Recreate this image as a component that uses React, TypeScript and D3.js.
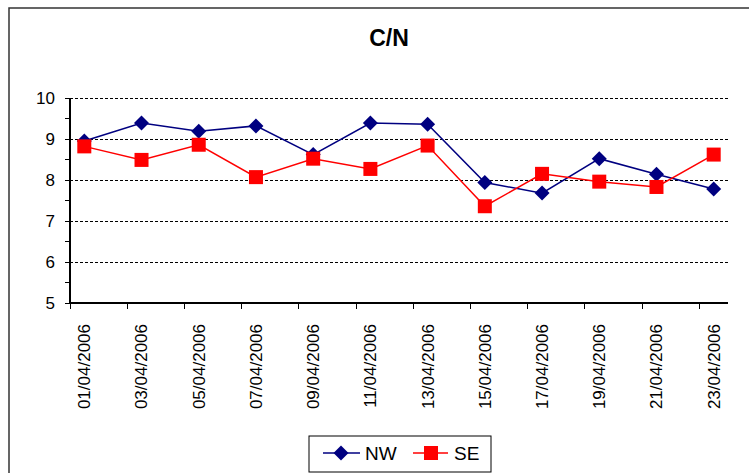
import * as d3 from "d3";

// dates are every 2 days in April 2006
const dates = [
  "01/04/2006", "03/04/2006", "05/04/2006", "07/04/2006", "09/04/2006", "11/04/2006",
  "13/04/2006", "15/04/2006", "17/04/2006", "19/04/2006", "21/04/2006", "23/04/2006",
];
const nwValues = [8.95, 9.39, 9.19, 9.32, 8.62, 9.39, 9.36, 7.94, 7.68, 8.52, 8.14, 7.78];
const seValues = [8.82, 8.49, 8.86, 8.07, 8.52, 8.27, 8.84, 7.36, 8.15, 7.96, 7.83, 8.62];
const yTicks = [5, 6, 7, 8, 9, 10];
const yMinorTicks = [5.5, 6.5, 7.5, 8.5, 9.5];

const W = 749;
const H = 473;
const plot = { left: 70, right: 728, top: 98, bottom: 303 };
const font = "Liberation Sans, Arial, sans-serif";

const dayIndex = (s: string) => +s.slice(0, 2) - 1;

// square turned 45 degrees, 14px across
const diamondPath = "M0,-7.5L7.5,0L0,7.5L-7.5,0Z";

export default function App() {
  const x = d3.scaleLinear().domain([0, 23]).range([plot.left, plot.right]);
  const y = d3.scaleLinear().domain([5, 10]).range([plot.bottom, plot.top]);

  const line = d3
    .line<number>()
    .x((_, i) => x(dayIndex(dates[i]) + 0.5))
    .y((d) => y(d));

  return (
    <svg
      width={W}
      height={H}
      style={{ position: "absolute", left: 0, top: 0, background: "#fff" }}
      fontFamily={font}
    >
      {/* outer frame */}
      <rect x={9} y={8} width={770} height={500} fill="#fff" stroke="#333" strokeWidth={1.5} />

      <text x={389} y={46} textAnchor="middle" fontSize={23} fontWeight="bold">
        C/N
      </text>

      {/* grid */}
      {yTicks.filter((t) => t > 5).map((t) => (
        <line
          key={t}
          x1={plot.left}
          x2={plot.right}
          y1={y(t)}
          y2={y(t)}
          stroke="#000"
          strokeWidth={1}
          strokeDasharray="3,2"
          shapeRendering="crispEdges"
        />
      ))}

      {/* y axis */}
      <line x1={plot.left} x2={plot.left} y1={plot.top} y2={plot.bottom} stroke="#000" strokeWidth={2} />
      {[...yTicks, ...yMinorTicks].map((t) => (
        <line
          key={"yt" + t}
          x1={plot.left - 5}
          x2={plot.left}
          y1={y(t)}
          y2={y(t)}
          stroke="#000"
          strokeWidth={1}
          shapeRendering="crispEdges"
        />
      ))}
      {yTicks.map((t) => (
        <text key={"yl" + t} x={55} y={y(t)} dy="0.35em" textAnchor="end" fontSize={17}>
          {t}
        </text>
      ))}

      {/* x axis */}
      <line x1={plot.left} x2={plot.right} y1={plot.bottom} y2={plot.bottom} stroke="#000" strokeWidth={2} />
      {dates.map((d) => (
        <line
          key={"xt" + d}
          x1={x(dayIndex(d))}
          x2={x(dayIndex(d))}
          y1={plot.bottom}
          y2={plot.bottom + 6}
          stroke="#000"
          strokeWidth={1}
          shapeRendering="crispEdges"
        />
      ))}
      {dates.map((d) => {
        const cx = x(dayIndex(d) + 0.5);
        return (
          <text
            key={"xl" + d}
            transform={`translate(${cx},${plot.bottom + 21}) rotate(-90)`}
            textAnchor="end"
            dy="0.35em"
            fontSize={17}
          >
            {d}
          </text>
        );
      })}

      {/* series */}
      <path d={line(nwValues) ?? undefined} fill="none" stroke="#000080" strokeWidth={1.5} />
      <path d={line(seValues) ?? undefined} fill="none" stroke="#ff0000" strokeWidth={1.5} />
      {nwValues.map((v, i) => (
        <path
          key={"nw" + i}
          d={diamondPath}
          transform={`translate(${x(dayIndex(dates[i]) + 0.5)},${y(v)})`}
          fill="#000080"
        />
      ))}
      {seValues.map((v, i) => (
        <rect
          key={"se" + i}
          x={x(dayIndex(dates[i]) + 0.5) - 7}
          y={y(v) - 7}
          width={14}
          height={14}
          fill="#ff0000"
        />
      ))}

      {/* legend */}
      <rect x={309} y={436} width={182} height={36} fill="#fff" stroke="#000" strokeWidth={1} />
      <line x1={323} x2={360} y1={453} y2={453} stroke="#000080" strokeWidth={1.5} />
      <path d={diamondPath} transform="translate(341,453)" fill="#000080" />
      <text x={365} y={453} dy="0.35em" fontSize={19}>NW</text>
      <line x1={413} x2={448} y1={453} y2={453} stroke="#ff0000" strokeWidth={1.5} />
      <rect x={424} y={446} width={14} height={14} fill="#ff0000" />
      <text x={454} y={453} dy="0.35em" fontSize={19}>SE</text>
    </svg>
  );
}
